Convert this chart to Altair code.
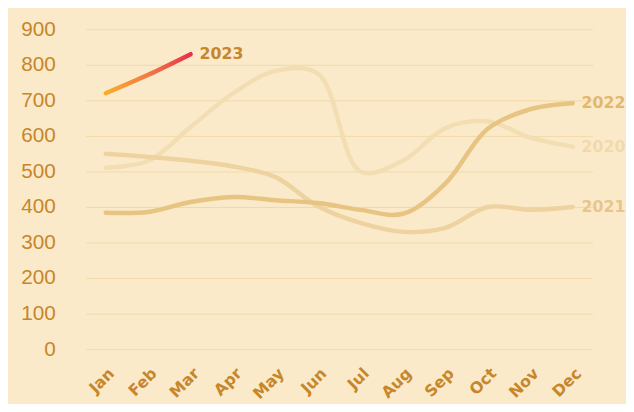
import altair as alt
import pandas as pd

months = ["Jan", "Feb", "Mar", "Apr", "May", "Jun", "Jul", "Aug", "Sep", "Oct", "Nov", "Dec"]
v2020 = [510, 530, 625, 720, 783, 775, 500, 530, 622, 641, 595, 570]
v2021 = [550, 541, 530, 514, 484, 402, 355, 330, 341, 400, 392, 400]
v2022 = [384, 386, 414, 428, 419, 411, 392, 381, 466, 620, 675, 692]
v2023 = [720, 772, 830]
y_ticks = [0, 100, 200, 300, 400, 500, 600, 700, 800, 900]

series = [("2020", v2020), ("2021", v2021), ("2022", v2022), ("2023", v2023)]
rows = []
for name, vals in series:
    for m, v in zip(months, vals):
        rows.append({"year": name, "month": m, "value": v})
df = pd.DataFrame(rows)
last = pd.DataFrame([{"year": n, "month": months[len(v) - 1], "value": v[-1]} for n, v in series])

BG = "#faeaca"
GOLD = "#c8862a"
line_colors = {"2020": "#f3ddb2", "2021": "#eed3a0", "2022": "#e8c482"}
label_colors = {"2020": "#f2d9ac", "2021": "#e8c58a", "2022": "#e2b86e", "2023": GOLD}

xenc = alt.X("month:N", sort=months,
             scale=alt.Scale(type="point", padding=0.465),
             axis=alt.Axis(title=None, labelAngle=-45, labelAlign="right", labelBaseline="top",
                           labelPadding=16, labelFont="DejaVu Sans", labelFontWeight="bold",
                           labelFontSize=16, labelColor=GOLD, ticks=False, domain=False, grid=False))
yenc = alt.Y("value:Q", scale=alt.Scale(domain=[0, 900], nice=False),
             axis=alt.Axis(title=None, values=y_ticks, labelFont="Liberation Sans", labelFontSize=21,
                           labelColor=GOLD, labelPadding=31, ticks=False, domain=False,
                           gridColor="#f3d8a8", gridWidth=1))

layers = []
for name in ["2020", "2021", "2022"]:
    layers.append(
        alt.Chart(df[df.year == name]).mark_line(
            interpolate="catmull-rom", strokeWidth=4.5, strokeCap="round", color=line_colors[name]
        ).encode(x=xenc, y=yenc)
    )
layers.append(
    alt.Chart(df[df.year == "2023"]).mark_line(
        interpolate="catmull-rom", strokeWidth=4.5, strokeCap="round",
        color=alt.Gradient(gradient="linear", x1=0, x2=1, y1=0, y2=0,
                           stops=[alt.GradientStop(offset=0, color="#f9ad2a"),
                                  alt.GradientStop(offset=0.5, color="#f27a45"),
                                  alt.GradientStop(offset=1, color="#e8304f")])
    ).encode(x=xenc, y=yenc)
)
labels = alt.Chart(last).mark_text(
    align="left", baseline="middle", dx=9, font="DejaVu Sans", fontWeight="bold", fontSize=16
).encode(
    x=xenc, y=yenc, text="year:N",
    color=alt.Color("year:N", scale=alt.Scale(domain=list(label_colors.keys()),
                                              range=list(label_colors.values())), legend=None)
)
layers.append(labels)

chart = alt.layer(*layers).properties(
    width=513, height=324, background=BG,
    autosize=alt.AutoSizeParams(type="none"),
    padding={"left": 79, "top": 19, "right": 34, "bottom": 53}
).configure_view(stroke=None)

chart.save("out.html", embed_options={"renderer": "svg", "actions": False})
